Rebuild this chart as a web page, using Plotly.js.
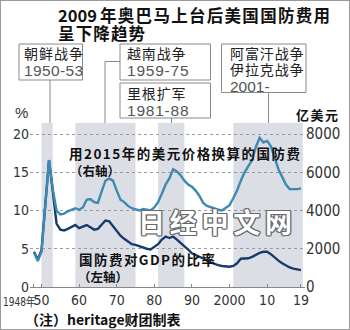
<!DOCTYPE html>
<html><head><meta charset="utf-8">
<script src="https://cdn.plot.ly/plotly-3.0.1.min.js"></script>
<style>
body{margin:0;background:#fff;}
#wrap{position:relative;width:350px;height:330px;}
#chart{width:350px;height:330px;}
#frame{position:absolute;left:0;top:0;width:350px;height:330px;box-sizing:border-box;border:1px solid #9a9a9a;pointer-events:none;}
</style>
</head><body>
<div id="wrap"><div id="chart"></div><div id="frame"></div></div>
<script>
// ---- data ----
const years = [1948,1949,1950,1951,1952,1953,1954,1955,1956,1957,1958,1959,
  1960,1961,1962,1963,1964,1965,1966,1967,1968,1969,
  1970,1971,1972,1973,1974,1975,1976,1977,1978,1979,
  1980,1981,1982,1983,1984,1985,1986,1987,1988,1989,
  1990,1991,1992,1993,1994,1995,1996,1997,1998,1999,
  2000,2001,2002,2003,2004,2005,2006,2007,2008,2009,
  2010,2011,2012,2013,2014,2015,2016,2017,2018,2019];
// defence spending in constant 2015 dollars (亿美元, right axis)
const spendReal = [1800,1360,1840,4320,6640,5120,4000,3800,3840,3960,4040,4120,
  4040,4160,4560,4600,4440,4400,5000,5560,5680,5560,
  5040,4560,4440,4240,4120,4080,4000,4080,4040,4000,
  4160,4440,4880,5360,5680,6160,6040,5840,5560,5360,
  5240,5040,4760,4400,4240,4160,4120,4040,4000,4120,
  4280,4640,5040,5560,6000,6320,6640,7320,7800,7560,
  7640,7360,6760,6160,5760,5360,5120,5120,5120,5160];
// defence spending as % of GDP (left axis)
const spendGDP = [4.6,3.6,4.8,10.5,16.6,12.5,8.3,7.5,7.4,7.6,7.9,8.1,
  7.7,7.9,8.1,7.8,7.5,7.6,8.2,8.7,8.6,8.0,
  7.4,6.7,6.3,6.0,5.6,5.5,5.3,5.1,5.0,4.9,
  5.2,5.6,6.2,6.6,6.4,6.6,6.2,5.8,5.3,4.9,
  4.4,4.2,3.95,3.75,3.5,3.2,3.0,2.85,2.75,2.7,
  2.65,2.75,3.1,3.7,3.75,3.75,3.95,4.25,4.45,4.6,
  4.6,4.3,3.85,3.45,3.1,2.8,2.55,2.4,2.25,2.2];
const warStart = [1950,1959,1981,2001];
const warEnd   = [1953,1975,1988,2019.5];
const xTickVals = [1948,1950,1960,1970,1980,1990,2000,2010,2019];
const xTickText = ['','50','60','70','80','90','2000','10','19'];
const yLeftTicks = [0,5,10,15,20];
const yRightTicks = [0,2000,4000,6000,8000];

// ---- layout helpers (pixel -> paper) ----
const L=30, R=305, T=123, B=287;
const px = x => (x-L)/(R-L);
const py = y => (B-y)/(B-T);
const CJK = '"Noto Sans CJK SC", sans-serif';
const NUM = '"Liberation Sans Narrow", "DejaVu Sans Condensed", sans-serif';
const SANS = '"Liberation Sans", Arial, sans-serif';

const annos = [], fit = [];
// fitW: target text width in px (spacing adjusted), fitMode: 'spacing' | 'spacingAndGlyphs'
function addText(text, x, y, opts, fitW, fitMode){
  annos.push(Object.assign({text:text, xref:'paper', yref:'paper', x:px(x), y:py(y),
    xanchor:'left', yanchor:'middle', align:'left', showarrow:false,
    font:{family:CJK, size:14, color:'#111'}}, opts||{}));
  fit.push(fitW ? {w:fitW, mode:fitMode||'spacing'} : null);
}
// title
const tf = {family:CJK,size:16.5,color:'#111',weight:'bold'};
addText('2009', 56, 14.5, {font:tf});
addText('年奥巴马上台后美国国防费用', 97.5, 14.5, {font:tf}, 230);
addText('呈下降趋势', 56, 33, {font:tf}, 87);
// war boxes text
const lab = {family:CJK,size:14,color:'#222'};
const dat = {family:SANS,size:15.5,color:'#555'};
addText('朝鲜战争', 22, 53, {font:lab}, 59);
addText('1950-53', 22, 70.5, {font:dat}, 59);
addText('越南战争', 124.5, 53, {font:lab}, 58.5);
addText('1959-75', 124.5, 70.5, {font:dat}, 61.5);
addText('里根扩军', 124.5, 93, {font:lab}, 58.5);
addText('1981-88', 124.5, 110.5, {font:dat}, 61.5);
addText('阿富汗战争', 227.5, 53, {font:lab}, 73.5);
addText('伊拉克战争', 227.5, 68.5, {font:lab}, 73.5);
addText('2001-', 227.5, 86.5, {font:dat});
// series labels
const bl = {family:CJK,size:13.5,color:'#111',weight:'bold'};
addText('用2015年的美元价格换算的国防费', 66.5, 153, {font:bl}, 231);
addText('（右轴）', 68, 170, {font:{family:CJK,size:12.5,color:'#111',weight:'bold'}});
addText('国防费对GDP的比率', 77, 258.5, {font:bl}, 136);
addText('（左轴）', 75.5, 276, {font:{family:CJK,size:12.5,color:'#111',weight:'bold'}});
// axis unit labels
addText('%', 21, 113, {xanchor:'center', align:'center', font:{family:SANS,size:15,color:'#333'}});
addText('亿美元', 293.5, 114, {font:{family:CJK,size:13,color:'#111',weight:'bold'}}, 42);
addText('1948年', 0.5, 301.5, {font:{family:NUM,size:13,color:'#333'}}, 33, 'spacingAndGlyphs');
addText('（注）heritage财团制表', 23, 319, {font:{family:CJK,size:14,color:'#111',weight:'bold'}});
// watermark
addText('日经中文网', 136, 221, {font:{family:CJK,size:27,color:'#ffffff',weight:'bold',
  shadow:'1.3px 0 0 #6a6a6a, -1.3px 0 0 #6a6a6a, 0 1.3px 0 #6a6a6a, 0 -1.3px 0 #6a6a6a, 1px 1px 0 #6a6a6a, -1px -1px 0 #6a6a6a, 1px -1px 0 #6a6a6a, -1px 1px 0 #6a6a6a'}}, 154);

// ---- shapes ----
const shapes = [];
for (let i=0;i<warStart.length;i++){
  shapes.push({type:'rect', xref:'x', yref:'paper', x0:warStart[i], x1:warEnd[i], y0:0, y1:1,
    fillcolor:'#dcdee6', line:{width:0}, layer:'below'});
}
const boxLine = {color:'#8a8a8a', width:1};
function box(x0,y0,x1,y1){ shapes.push({type:'rect', xref:'paper', yref:'paper', x0:px(x0), x1:px(x1), y0:py(y1), y1:py(y0), fillcolor:'#fff', line:boxLine}); }
function seg(x0,y0,x1,y1){ shapes.push({type:'line', xref:'paper', yref:'paper', x0:px(x0), x1:px(x1), y0:py(y0), y1:py(y1), line:boxLine}); }
box(19,44,82.5,80);
box(120,44,210.5,80);
box(120,83,210.5,118);
box(221.5,44,306,92.5);
seg(50,80,50,123);
seg(105,61.5,120,61.5);
seg(105,61.5,105,123);
seg(171.5,118,171.5,123);
seg(268.5,92.5,268.5,123);

const traces = [
  {x:years, y:spendReal, yaxis:'y2', type:'scatter', mode:'lines',
   line:{color:'#3d89b4', width:2.4}, hoverinfo:'skip'},
  {x:years, y:spendGDP, yaxis:'y', type:'scatter', mode:'lines',
   line:{color:'#163c6c', width:2.4}, hoverinfo:'skip'}
];

const layout = {
  width:350, height:330,
  margin:{l:L, r:350-R, t:T, b:330-B, pad:0},
  paper_bgcolor:'#fff', plot_bgcolor:'rgba(0,0,0,0)',
  showlegend:false,
  xaxis:{range:[1946.94,2020.07], tickvals:xTickVals, ticktext:xTickText,
    ticks:'inside', ticklen:3, tickcolor:'#888', showgrid:false, zeroline:false,
    showline:true, linecolor:'#888', linewidth:1,
    tickfont:{family:NUM, size:14, color:'#333'}},
  yaxis:{range:[0,21.44], tickvals:yLeftTicks, ticks:'', showline:false, zeroline:false,
    showgrid:true, gridcolor:'#9a9a9a', griddash:'dot', gridwidth:1,
    tickfont:{family:NUM, size:14, color:'#333'}},
  yaxis2:{range:[0,8576], tickvals:yRightTicks, overlaying:'y', side:'right', ticks:'',
    showgrid:false, zeroline:false, showline:false,
    tickfont:{family:NUM, size:15, color:'#333'}},
  shapes:shapes,
  annotations:annos
};

Plotly.newPlot('chart', traces, layout, {staticPlot:true}).then(gd => {
  gd.querySelectorAll('g.annotation').forEach(g => {
    const i = +g.getAttribute('data-index');
    const f = fit[i];
    if (!f) return;
    const t = g.querySelector('text.annotation-text') || g.querySelector('text');
    if (!t) return;
    t.setAttribute('textLength', f.w);
    t.setAttribute('lengthAdjust', f.mode);
  });
});
</script>
</body></html>
